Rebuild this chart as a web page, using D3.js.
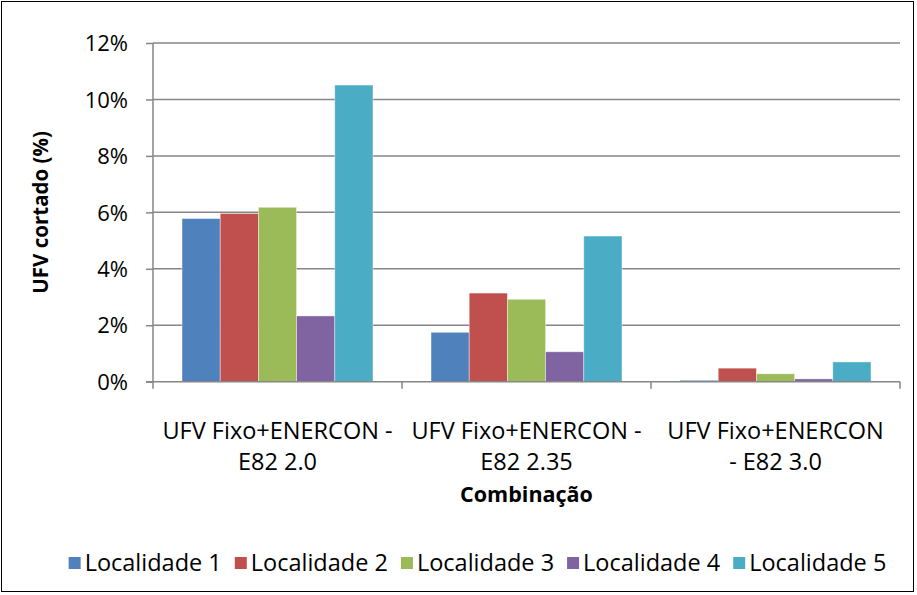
<!DOCTYPE html>
<html>
<head>
<meta charset="utf-8">
<script src="https://cdn.jsdelivr.net/npm/d3@7"></script>
<style>
  body { margin: 0; background: #fff; }
  svg text { font-family: "Open Sans", "Noto Sans", sans-serif; fill: #000; }
</style>
</head>
<body>
<svg id="chart"></svg>
<script>
// data
const categories = [
  ["UFV Fixo+ENERCON -", "E82 2.0"],
  ["UFV Fixo+ENERCON -", "E82 2.35"],
  ["UFV Fixo+ENERCON", "- E82 3.0"]
];
const seriesNames = ["Localidade 1", "Localidade 2", "Localidade 3", "Localidade 4", "Localidade 5"];
const localidade1 = [5.78, 1.75, 0.05];
const localidade2 = [5.96, 3.14, 0.48];
const localidade3 = [6.18, 2.92, 0.28];
const localidade4 = [2.33, 1.06, 0.10];
const localidade5 = [10.51, 5.16, 0.70];
const yTicks = [0, 2, 4, 6, 8, 10, 12];
const colors = ["#4F81BD", "#C0504D", "#9BBB59", "#8064A2", "#4BACC6"];

const allSeries = [localidade1, localidade2, localidade3, localidade4, localidade5];

const W = 917, H = 595;
const plot = {left: 153, right: 900, top: 43, bottom: 381.7};

const svg = d3.select("#chart").attr("width", W).attr("height", H);

// outer frame
svg.append("rect")
    .attr("x", 1.5).attr("y", 1.5)
    .attr("width", 912).attr("height", 590)
    .attr("fill", "#fff")
    .attr("stroke", "#000")
    .attr("stroke-width", 1);

const y = d3.scaleLinear().domain([0, 12]).range([plot.bottom, plot.top]);
const x0 = d3.scaleBand().domain(d3.range(categories.length)).range([plot.left, plot.right]);
const x1 = d3.scaleBand().domain(d3.range(seriesNames.length))
    .range([0, x0.bandwidth()]).paddingOuter(0.76);

// gridlines
svg.append("g").selectAll("line").data(yTicks.filter(d => d > 0)).join("line")
    .attr("x1", plot.left).attr("x2", plot.right)
    .attr("y1", d => y(d)).attr("y2", d => y(d))
    .attr("stroke", "#868686").attr("stroke-width", 1.5);

// bars
const groups = svg.append("g").selectAll("g").data(categories).join("g")
    .attr("transform", (d, i) => `translate(${x0(i)},0)`);
groups.selectAll("rect")
    .data((d, i) => allSeries.map((s, k) => ({k, v: s[i]})))
    .join("rect")
    .attr("x", d => x1(d.k))
    .attr("width", x1.bandwidth())
    .attr("y", d => y(d.v))
    .attr("height", d => y(0) - y(d.v))
    .attr("fill", d => colors[d.k])
    .attr("stroke", "#fff").attr("stroke-opacity", 0.5).attr("stroke-width", 0.8);

// y axis
const yAxis = svg.append("g")
    .attr("transform", `translate(${plot.left},0)`)
    .call(d3.axisLeft(y).tickValues(yTicks).tickFormat(d => d + "%").tickSize(7).tickPadding(18));
yAxis.select(".domain").attr("stroke", "#868686").attr("stroke-width", 1.5).attr("d", `M0,${plot.top}V${plot.bottom}`);
yAxis.selectAll(".tick line").attr("stroke", "#868686").attr("stroke-width", 1.5);
yAxis.selectAll(".tick text").attr("font-size", 22).attr("dy", "0.35em");
yAxis.attr("font-family", null);

// x axis line + tick marks at category edges
const xEdges = d3.range(categories.length + 1).map(i => i < categories.length ? x0(i) : plot.right);
svg.append("line")
    .attr("x1", plot.left - 7).attr("x2", plot.right)
    .attr("y1", y(0)).attr("y2", y(0))
    .attr("stroke", "#868686").attr("stroke-width", 1.5);
svg.append("g").selectAll("line").data(xEdges).join("line")
    .attr("x1", d => d).attr("x2", d => d)
    .attr("y1", y(0)).attr("y2", y(0) + 7)
    .attr("stroke", "#868686").attr("stroke-width", 1.5);

// category labels
const catText = svg.append("g").selectAll("text").data(categories).join("text")
    .attr("text-anchor", "middle")
    .attr("font-size", 23.5)
    .attr("transform", (d, i) => `translate(${x0(i) + x0.bandwidth() / 2},0)`);
catText.selectAll("tspan").data(d => d).join("tspan")
    .attr("x", 0)
    .attr("y", (d, j) => 439 + j * 31)
    .text(d => d);

// axis titles
svg.append("text")
    .attr("x", (plot.left + plot.right) / 2).attr("y", 502)
    .attr("text-anchor", "middle")
    .attr("font-size", 21.5).attr("font-weight", "bold")
    .text("Combinação");

svg.append("text")
    .attr("transform", `translate(48,${(plot.top + plot.bottom) / 2}) rotate(-90)`)
    .attr("text-anchor", "middle")
    .attr("font-size", 20.5).attr("font-weight", "bold")
    .text("UFV cortado (%)");

// legend
const legend = svg.append("g");
const items = legend.selectAll("g").data(seriesNames).join("g");
items.append("rect")
    .attr("width", 12).attr("height", 12)
    .attr("y", -14)
    .attr("fill", (d, i) => colors[i]);
items.append("text")
    .attr("x", 16)
    .attr("font-size", 23.5)
    .text(d => d);
let cx = 0;
items.each(function () {
    const w = this.getBBox().width;
    d3.select(this).attr("transform", `translate(${cx},0)`);
    cx += w + 13;
});
cx -= 13;
legend.attr("transform", `translate(${(W - cx) / 2 + 19},571)`);
</script>
</body>
</html>
